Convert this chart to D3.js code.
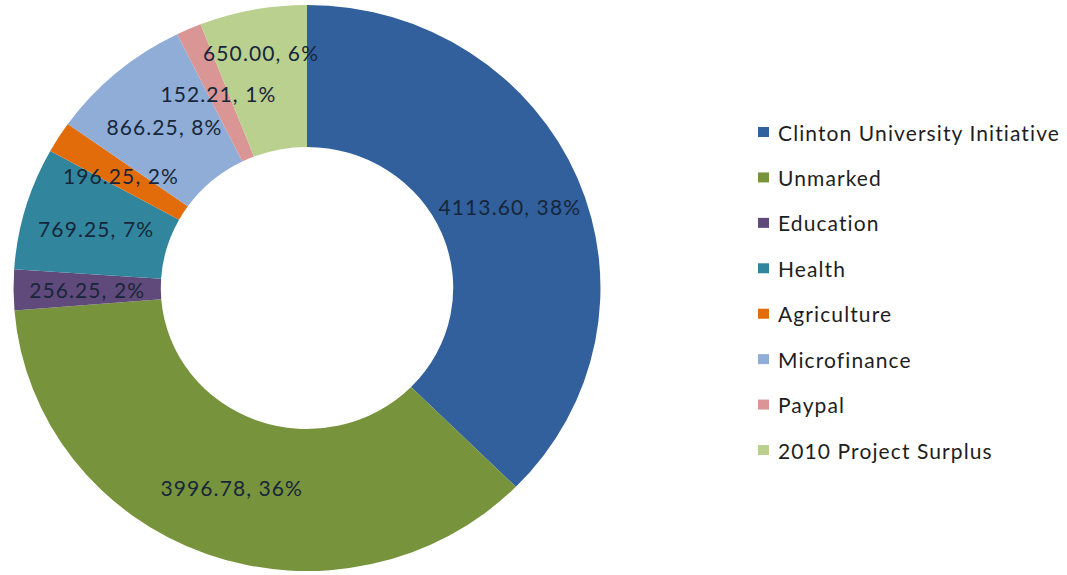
<!DOCTYPE html>
<html>
<head>
<meta charset="utf-8">
<script src="https://cdn.jsdelivr.net/npm/d3@7"></script>
<style>
  body { margin: 0; background: #fff; }
  svg { display: block; }
  text { font-family: Lato, "Open Sans", sans-serif; }
</style>
</head>
<body>
<svg id="chart"></svg>
<script>
// categories in drawing order (clockwise from 12 o'clock)
const categories = [
  'Clinton University Initiative',
  'Unmarked',
  'Education',
  'Health',
  'Agriculture',
  'Microfinance',
  'Paypal',
  '2010 Project Surplus',
];
const amounts = [4113.6, 3996.78, 256.25, 769.25, 196.25, 866.25, 152.21, 650.0];
// percentages as printed on the chart
const percents = [38, 36, 2, 7, 2, 8, 1, 6];
const colors = ['#31609c', '#77933c', '#604a7b', '#31869d', '#e36c0a', '#8fadd6', '#d99694', '#b9d08f'];

const width = 1067;
const height = 575;
const cx = 307;
const cy = 288;
const outerR = 283;
const innerR = 141;
const stretch = 1.037; // the original is slightly wider than tall

const svg = d3.select('#chart').attr('width', width).attr('height', height);

const data = categories.map((name, i) => ({ name, value: amounts[i], pct: percents[i], color: colors[i] }));

const pie = d3.pie().sort(null).value((d) => d.value);
const arcs = pie(data);

const arc = d3.arc().innerRadius(innerR).outerRadius(outerR);

//Donut slices
svg
  .append('g')
  .attr('transform', `translate(${cx},${cy}) scale(${stretch},1)`)
  .selectAll('path')
  .data(arcs)
  .enter()
  .append('path')
  .attr('d', arc)
  .attr('fill', (d) => d.data.color);

//Data labels, at middle of the ring (last one pushed out a bit, as in the original)
const labelRadius = (i) => (i === arcs.length - 1 ? 240 : (innerR + outerR) / 2);

svg
  .append('g')
  .selectAll('text')
  .data(arcs)
  .enter()
  .append('text')
  .attr('x', (d, i) => {
    const a = (d.startAngle + d.endAngle) / 2;
    return cx + Math.sin(a) * labelRadius(i) * stretch;
  })
  .attr('y', (d, i) => {
    const a = (d.startAngle + d.endAngle) / 2;
    return cy - Math.cos(a) * labelRadius(i);
  })
  .attr('text-anchor', 'middle')
  .attr('dominant-baseline', 'central')
  .attr('font-size', 21)
  .attr('letter-spacing', 1.1)
  .attr('fill', '#17263a')
  .text((d) => `${d.data.value.toFixed(2)}, ${d.data.pct}%`);

// Legend
const legendY = d3.scalePoint().domain(categories).range([132, 450]);

const legend = svg
  .append('g')
  .selectAll('g')
  .data(data)
  .enter()
  .append('g')
  .attr('transform', (d) => `translate(758,${legendY(d.name)})`);

legend
  .append('rect')
  .attr('x', 0)
  .attr('y', -5)
  .attr('width', 11)
  .attr('height', 10)
  .attr('fill', (d) => d.color);

legend
  .append('text')
  .attr('x', 20)
  .attr('y', 0)
  .attr('dominant-baseline', 'central')
  .attr('font-size', 21)
  .attr('letter-spacing', 1.1)
  .attr('fill', '#1e1e1e')
  .text((d) => d.name);
</script>
</body>
</html>
